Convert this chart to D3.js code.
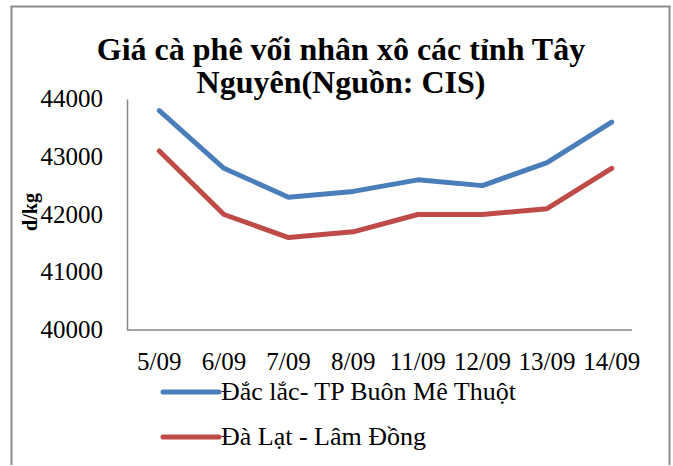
<!DOCTYPE html>
<html>
<head>
<meta charset="utf-8">
<script src="https://cdn.jsdelivr.net/npm/d3@7"></script>
<style>
  body { margin: 0; background: #fff; }
  svg { display: block; font-family: 'Liberation Serif', 'Times New Roman', serif; }
</style>
</head>
<body>
<svg id="chart" width="673" height="466"></svg>
<script>
const dates = ['5/09', '6/09', '7/09', '8/09', '11/09', '12/09', '13/09', '14/09'];
const dakLak = [43800, 42800, 42300, 42400, 42600, 42500, 42900, 43600];
const daLat = [43100, 42000, 41600, 41700, 42000, 42000, 42100, 42800];
const yTicks = [40000, 41000, 42000, 43000, 44000];
const seriesNames = ['Đắc lắc- TP Buôn Mê Thuột', 'Đà Lạt - Lâm Đồng'];
const colors = ['#4a7ebb', '#be4b48'];

const width = 673;
const height = 466;
const margin = { top: 99, right: 29, bottom: 136, left: 127 };
const innerWidth = width - margin.left - margin.right;
const innerHeight = height - margin.top - margin.bottom;

const svg = d3.select('#chart');

// outer frame of the chart object, its bottom edge is not in the picture
svg.append('line').attr('x1', 11.5).attr('x2', 11.5).attr('y1', 6).attr('y2', height - 1)
  .attr('stroke', '#8c8c8c').attr('stroke-width', 2);
svg.append('line').attr('x1', 669.5).attr('x2', 669.5).attr('y1', 6).attr('y2', height - 1)
  .attr('stroke', '#8c8c8c').attr('stroke-width', 2);
svg.append('line').attr('x1', 10.5).attr('x2', 670.5).attr('y1', 6.5).attr('y2', 6.5)
  .attr('stroke', '#8c8c8c').attr('stroke-width', 2);

// title
const title = svg.append('text')
  .attr('text-anchor', 'middle')
  .attr('font-weight', 'bold')
  .attr('font-size', 32)
  .attr('fill', '#000');
title.append('tspan').attr('x', 341).attr('y', 60).text('Giá cà phê vối nhân xô các tỉnh Tây');
title.append('tspan').attr('x', 341).attr('y', 93).text('Nguyên(Nguồn: CIS)');

const g = svg.append('g')
  .attr('transform', `translate(${margin.left},${margin.top})`);

const xScale = d3.scalePoint()
  .domain(dates)
  .range([0, innerWidth])
  .padding(0.5);

const yScale = d3.scaleLinear()
  .domain([40000, 44000])
  .range([innerHeight, 0]);

// axis lines only, labels drawn below
const yAxisG = g.append('g')
  .call(d3.axisLeft(yScale).tickValues([]).tickSizeOuter(0));
yAxisG.select('.domain').attr('stroke', '#868686').attr('stroke-width', 1.5);

const xAxisG = g.append('g')
  .attr('transform', `translate(0,${innerHeight})`)
  .call(d3.axisBottom(xScale).tickValues([]).tickSizeOuter(0));
xAxisG.select('.domain')
  .attr('d', `M0,0H${innerWidth - 12}`)
  .attr('stroke', '#868686')
  .attr('stroke-width', 1.5);

// tick labels
g.selectAll('.y-label')
  .data(yTicks)
  .join('text')
  .attr('class', 'y-label')
  .attr('x', -24)
  .attr('y', (d) => yScale(d) + 8)
  .attr('text-anchor', 'end')
  .attr('font-size', 25)
  .attr('fill', '#000')
  .text(d3.format('d'));

g.selectAll('.x-label')
  .data(dates)
  .join('text')
  .attr('class', 'x-label')
  .attr('x', (d) => xScale(d))
  .attr('y', innerHeight + 40)
  .attr('text-anchor', 'middle')
  .attr('font-size', 25)
  .attr('fill', '#000')
  .text((d) => d);

// y axis title
svg.append('text')
  .attr('transform', 'translate(37,212) rotate(-90)')
  .attr('text-anchor', 'middle')
  .attr('font-weight', 'bold')
  .attr('font-size', 20)
  .text('d/kg');

// lines
const line = d3.line()
  .x((d, i) => xScale(dates[i]))
  .y((d) => yScale(d));

g.selectAll('.series')
  .data([dakLak, daLat])
  .join('path')
  .attr('class', 'series')
  .attr('d', line)
  .attr('fill', 'none')
  .attr('stroke', (d, i) => colors[i])
  .attr('stroke-width', 5)
  .attr('stroke-linejoin', 'round')
  .attr('stroke-linecap', 'round');

// legend
const legend = svg.append('g').attr('transform', 'translate(163,392)');
const items = legend.selectAll('.legend-item')
  .data(seriesNames)
  .join('g')
  .attr('class', 'legend-item')
  .attr('transform', (d, i) => `translate(0,${i * 45})`);

items.append('line')
  .attr('x1', 0)
  .attr('x2', 56)
  .attr('stroke', (d, i) => colors[i])
  .attr('stroke-width', 5)
  .attr('stroke-linecap', 'round');

items.append('text')
  .attr('x', 58)
  .attr('y', 8)
  .attr('font-size', 26)
  .attr('fill', '#000')
  .text((d) => d);
</script>
</body>
</html>
